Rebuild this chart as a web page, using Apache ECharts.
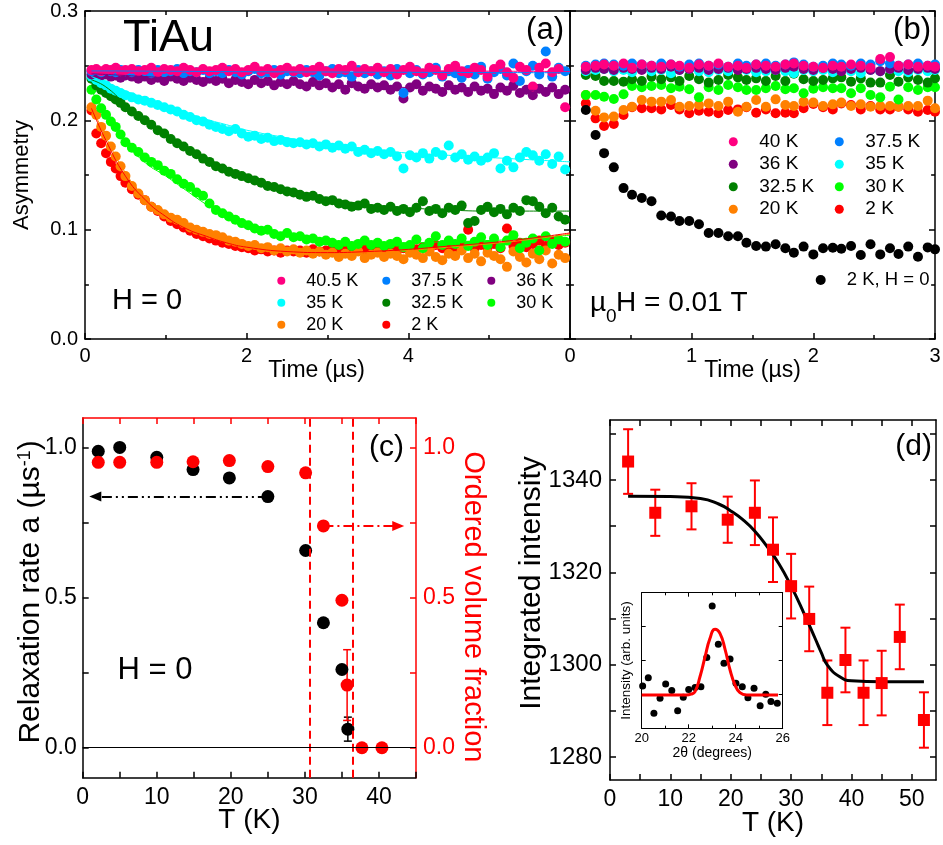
<!DOCTYPE html>
<html><head><meta charset="utf-8">
<script src="https://cdn.jsdelivr.net/npm/echarts@6/dist/echarts.min.js"></script>
<style>html,body{margin:0;padding:0;background:#fff}#c{width:943px;height:845px}</style>
</head><body><div id="c"></div>
<script>
// ---------- Panel (a): ZF asymmetry, H = 0 ----------
const tA = [0.08,0.14,0.2,0.26,0.32,0.38,0.44,0.5,
0.58,0.66,0.74,0.82,0.9,0.98,1.06,1.14,1.22,1.3,1.38,1.46,1.54,
1.62,1.7,1.78,1.86,1.94,2.02,2.1,2.18,2.26,2.34,2.42,2.5,2.58,
2.66,2.74,2.82,2.9,2.98,3.06,3.14,3.22,3.3,3.38,3.46,3.54,3.62,
3.7,3.78,3.86,3.94,4.02,4.1,4.18,4.26,4.34,4.42,4.5,4.58,4.66,
4.74,4.82,4.9,4.98,5.06,5.14,5.22,5.3,5.38,5.46,5.54,5.62,5.7,5.78,5.86,5.94];
const a40_5 = [0.246,0.247,0.245,0.247,0.246,0.248,0.245,0.246,
0.247,0.245,0.246,0.248,0.244,0.247,0.246,0.245,0.248,0.246,0.244,0.247,0.245,
0.246,0.248,0.245,0.247,0.244,0.246,0.249,0.245,0.247,0.243,0.246,0.248,0.245,
0.247,0.244,0.246,0.249,0.245,0.243,0.247,0.246,0.250,0.244,0.247,0.245,0.248,
0.244,0.247,0.242,0.246,0.249,0.245,0.243,0.248,0.246,0.241,0.247,0.250,0.245,
0.243,0.248,0.246,0.240,0.247,0.251,0.244,0.239,0.249,0.246,0.231,0.248,0.252,0.244,0.247,0.212];
const a37_5 = [0.245,0.246,0.244,0.246,0.245,0.244,0.246,0.245,
0.244,0.246,0.245,0.243,0.246,0.244,0.245,0.247,0.243,0.245,0.244,0.246,0.243,
0.245,0.243,0.246,0.244,0.242,0.245,0.247,0.243,0.244,0.246,0.242,0.245,0.244,
0.243,0.246,0.244,0.241,0.245,0.247,0.243,0.244,0.240,0.246,0.243,0.245,0.242,
0.245,0.241,0.247,0.225,0.243,0.246,0.242,0.244,0.248,0.240,0.245,0.243,0.239,
0.246,0.242,0.249,0.238,0.244,0.247,0.241,0.252,0.236,0.245,0.250,0.242,0.263,0.240,0.248,0.245];
const a36 = [0.242,0.243,0.241,0.242,0.240,0.241,0.239,0.241,
0.240,0.238,0.240,0.237,0.239,0.236,0.240,0.238,0.236,0.239,0.237,0.235,0.238,
0.236,0.238,0.234,0.237,0.235,0.233,0.237,0.234,0.236,0.232,0.235,0.233,0.236,
0.233,0.231,0.235,0.232,0.234,0.230,0.233,0.228,0.234,0.231,0.229,0.233,0.230,
0.232,0.228,0.231,0.220,0.230,0.233,0.227,0.231,0.229,0.226,0.232,0.228,0.230,
0.226,0.231,0.227,0.229,0.224,0.230,0.227,0.232,0.225,0.228,0.223,0.229,0.226,0.230,0.224,0.228];
const a35 = [0.240,0.237,0.234,0.232,0.229,0.227,0.225,0.223,
0.221,0.219,0.218,0.216,0.214,0.212,0.210,0.208,0.205,0.203,0.200,0.199,0.196,
0.194,0.192,0.190,0.192,0.188,0.185,0.186,0.183,0.184,0.181,0.182,0.180,0.179,
0.180,0.178,0.179,0.176,0.178,0.175,0.177,0.174,0.176,0.171,0.173,0.170,0.172,
0.169,0.171,0.167,0.156,0.168,0.166,0.170,0.165,0.171,0.168,0.177,0.166,0.169,
0.164,0.167,0.163,0.166,0.170,0.156,0.163,0.157,0.166,0.171,0.168,0.163,0.169,0.160,0.167,0.155];
const a32_5 = [0.238,0.232,0.228,0.225,0.222,0.219,0.216,0.212,
0.208,0.204,0.200,0.196,0.191,0.188,0.183,0.179,0.176,0.172,0.169,0.165,0.162,
0.158,0.156,0.153,0.151,0.149,0.147,0.145,0.143,0.140,0.139,0.137,0.135,0.134,
0.132,0.130,0.131,0.128,0.126,0.127,0.124,0.123,0.121,0.122,0.124,0.119,0.120,
0.118,0.121,0.117,0.119,0.116,0.120,0.126,0.117,0.119,0.115,0.120,0.118,0.122,
0.106,0.108,0.118,0.121,0.116,0.119,0.114,0.120,0.117,0.127,0.126,0.121,0.115,0.120,0.112,0.109];
const a30 = [0.228,0.219,0.211,0.205,0.199,0.194,0.187,0.180,
0.175,0.171,0.166,0.162,0.159,0.154,0.151,0.146,0.142,0.139,0.134,0.131,0.124,
0.118,0.115,0.112,0.109,0.106,0.104,0.101,0.099,0.100,0.096,0.094,0.097,0.093,
0.094,0.091,0.092,0.089,0.090,0.088,0.086,0.089,0.085,0.087,0.090,0.086,0.088,
0.085,0.087,0.089,0.084,0.086,0.091,0.083,0.088,0.094,0.086,0.090,0.087,0.092,
0.085,0.089,0.093,0.086,0.092,0.084,0.090,0.095,0.083,0.088,0.092,0.081,0.094,0.087,0.091,0.089];
const a20 = [0.212,0.205,0.194,0.186,0.176,0.167,0.158,0.149,
0.140,0.133,0.127,0.121,0.118,0.114,0.111,0.109,0.106,0.102,0.100,0.098,0.096,
0.095,0.093,0.090,0.089,0.087,0.085,0.086,0.083,0.084,0.081,0.083,0.080,0.082,
0.079,0.081,0.078,0.080,0.077,0.079,0.075,0.078,0.076,0.080,0.074,0.077,0.079,
0.075,0.078,0.076,0.073,0.079,0.077,0.074,0.080,0.075,0.072,0.078,0.076,0.081,
0.074,0.078,0.071,0.079,0.076,0.073,0.066,0.080,0.075,0.070,0.078,0.073,0.081,0.069,0.077,0.074];
const a2 = [0.209,0.188,0.179,0.170,0.162,0.156,0.149,0.143,
0.137,0.132,0.127,0.121,0.117,0.112,0.108,0.105,0.102,0.099,0.096,0.094,0.092,
0.090,0.088,0.087,0.085,0.084,0.083,0.081,0.082,0.080,0.081,0.079,0.081,0.080,
0.081,0.079,0.082,0.080,0.081,0.083,0.080,0.082,0.081,0.084,0.082,0.080,0.083,
0.082,0.084,0.081,0.083,0.085,0.082,0.084,0.081,0.086,0.083,0.085,0.082,0.086,
0.100,0.083,0.086,0.084,0.087,0.083,0.101,0.085,0.088,0.084,0.087,0.090,0.085,0.089,0.086,0.088];
// fit curves of panel (a)
const tFit = [0.08,0.25,0.5,0.75,1,1.25,1.5,1.75,2,2.5,3,3.5,4,4.5,5,5.5,6];
const f40_5 = [0.2465,0.2465,0.2464,0.2464,0.2463,0.2462,0.2461,0.246,0.2459,0.2457,0.2456,0.2454,0.2453,0.2451,0.245,0.2448,0.2447];
const f37_5 = [0.2452,0.2452,0.2451,0.245,0.2449,0.2448,0.2447,0.2446,0.2445,0.2443,0.2442,0.244,0.2439,0.2438,0.2437,0.2436,0.2435];
const f36 = [0.2425,0.242,0.241,0.240,0.239,0.238,0.237,0.236,0.2355,0.234,0.2325,0.231,0.230,0.229,0.228,0.2275,0.227];
const f35 = [0.240,0.235,0.227,0.220,0.213,0.207,0.201,0.196,0.191,0.184,0.178,0.174,0.170,0.168,0.166,0.164,0.162];
const f32_5 = [0.237,0.231,0.215,0.200,0.188,0.176,0.166,0.156,0.148,0.137,0.129,0.123,0.120,0.118,0.117,0.117,0.117];
const f30 = [0.227,0.207,0.180,0.161,0.149,0.136,0.123,0.111,0.102,0.094,0.090,0.088,0.088,0.089,0.090,0.092,0.095];
const f20 = [0.213,0.186,0.152,0.129,0.114,0.103,0.095,0.089,0.085,0.080,0.079,0.079,0.081,0.084,0.087,0.091,0.096];
const f2 = [0.211,0.183,0.149,0.127,0.112,0.101,0.094,0.088,0.084,0.080,0.079,0.080,0.082,0.085,0.088,0.092,0.097];

// ---------- Panel (b): mu0H = 0.01 T ----------
const tB = [0.13,0.21,0.28,0.36,0.44,0.51,0.59,0.67,0.75,0.83,
0.9,0.98,1.06,1.14,1.22,1.3,1.38,1.45,1.53,1.61,
1.69,1.77,1.84,1.92,2.0,2.08,2.16,2.23,2.31,2.39,
2.47,2.55,2.63,2.7,2.78,2.86,2.94,3.0];
const b40 = [0.249,0.250,0.251,0.250,0.252,0.248,0.251,0.250,0.249,0.251,0.250,0.248,0.251,0.250,0.252,0.249,0.250,0.248,0.251,0.250,0.249,0.251,0.252,0.250,0.249,0.248,0.250,0.249,0.251,0.250,0.248,0.256,0.258,0.250,0.251,0.249,0.250,0.249];
const b37_5 = [0.250,0.251,0.252,0.251,0.250,0.252,0.251,0.250,0.252,0.251,0.249,0.251,0.252,0.250,0.251,0.249,0.252,0.250,0.251,0.252,0.250,0.251,0.253,0.251,0.249,0.250,0.252,0.251,0.250,0.252,0.251,0.254,0.252,0.250,0.251,0.252,0.250,0.251];
const b36 = [0.246,0.248,0.247,0.246,0.248,0.247,0.246,0.248,0.247,0.249,0.246,0.247,0.248,0.246,0.247,0.248,0.246,0.247,0.248,0.247,0.246,0.248,0.249,0.247,0.246,0.248,0.247,0.245,0.247,0.248,0.246,0.245,0.247,0.248,0.246,0.247,0.248,0.247];
const b35 = [0.245,0.246,0.247,0.245,0.246,0.244,0.247,0.245,0.246,0.243,0.246,0.247,0.245,0.244,0.246,0.245,0.247,0.246,0.244,0.245,0.246,0.245,0.243,0.246,0.245,0.246,0.244,0.246,0.245,0.243,0.246,0.245,0.247,0.245,0.244,0.246,0.245,0.246];
const b32_5 = [0.2415,0.2405,0.236,0.236,0.2354,0.2375,0.236,0.240,0.2375,0.2393,0.236,0.2405,0.2375,0.2345,0.2369,0.2415,0.2393,0.2369,0.2384,0.236,0.2405,0.236,0.2427,0.2375,0.236,0.2369,0.2384,0.2393,0.2354,0.2384,0.2345,0.2345,0.2415,0.2354,0.2393,0.2369,0.2345,0.2384];
const b30 = [0.2232,0.2232,0.2216,0.2195,0.2238,0.2314,0.2302,0.2314,0.2323,0.2293,0.2308,0.2284,0.221,0.2302,0.2277,0.2323,0.2302,0.2277,0.2277,0.2293,0.2314,0.2284,0.2293,0.2247,0.2290,0.2302,0.2293,0.2293,0.2247,0.2293,0.2232,0.221,0.2308,0.219,0.2302,0.2277,0.2302,0.2302];
const b20 = [0.2232,0.2088,0.2027,0.2034,0.2095,0.2125,0.2186,0.2171,0.2171,0.2186,0.2125,0.2131,0.214,0.2155,0.2131,0.2171,0.2079,0.2125,0.2186,0.2125,0.2192,0.214,0.2131,0.2171,0.2162,0.2131,0.2146,0.2162,0.2131,0.2146,0.2125,0.2131,0.2131,0.2125,0.2131,0.2131,0.218,0.211];
const b2 = [0.2155,0.2018,0.1948,0.1966,0.2049,0.2119,0.211,0.211,0.21,0.214,0.21,0.2064,0.2088,0.2079,0.2064,0.2095,0.21,0.2119,0.207,0.21,0.2064,0.207,0.2064,0.211,0.215,0.2119,0.21,0.2155,0.214,0.21,0.2131,0.21,0.21,0.2125,0.21,0.2079,0.2095,0.2079];
const b2zf = [0.2095,0.1866,0.170,0.157,0.138,0.132,0.129,0.126,0.113,0.112,0.108,0.108,0.105,0.097,0.097,0.094,0.094,0.088,0.085,0.0845,0.0866,0.083,0.079,0.0845,0.0774,0.083,0.0835,0.0826,0.085,0.0768,0.0866,0.0774,0.083,0.0777,0.0845,0.0753,0.0838,0.082];

// ---------- Panel (c) ----------
const cT = [2.1,5,10,14.9,19.8,25,30.1,32.5,35,35.8];
const cRate = [0.989,1.002,0.969,0.928,0.900,0.838,0.658,0.417,0.261,0.062];
const cRateErr = [0,0,0,0,0,0,0,0,0,0.04];
const cTv = [2.1,5,10,14.9,19.8,25,30.1,32.5,35,35.7,37.7,40.4];
const cVol = [0.952,0.952,0.952,0.954,0.958,0.938,0.917,0.740,0.492,0.209,0,0];
const cVolErr = [0,0,0,0,0,0,0,0,0,0.118,0,0];
const cTransitions = [30.7, 36.4];

// ---------- Panel (d) ----------
const dT = [3,7.5,13.5,19.5,24,27,30,33,36,39,42,45,48,52];
const dI = [1344.0,1332.9,1334.3,1331.4,1332.9,1324.9,1317.0,1309.9,1293.9,1301.0,1293.9,1296.0,1306.0,1288.0];
const dErr = [7,5,5,5,7,7,7,7,7,7,7,7,7,6];
const dFitT = [3,10,15,18,20,22,24,26,28,30,32,34,35,36,38,40,45,52];
const dFitI = [1336.5,1336.4,1336,1334.8,1333.3,1331.4,1328.9,1325.6,1321.8,1317.0,1311.5,1305.6,1302.6,1299.9,1297.4,1296.5,1296.3,1296.3];
// inset
const insX = [20.04,20.28,20.52,20.78,21.02,21.28,21.53,21.77,22.0,22.27,22.52,22.77,23.0,23.26,23.5,23.76,24.01,24.28,24.52,24.78,25.04,25.28,25.5,25.77];
const insY = [0.312,0.373,0.111,0.221,0.327,0.278,0.130,0.229,0.287,0.300,0.307,0.523,0.902,0.619,0.479,0.511,0.332,0.307,0.226,0.295,0.167,0.251,0.197,0.184];
const insFitX = [20.0,21.9,22.1,22.27,22.48,22.7,22.9,23.12,23.33,23.55,23.76,23.97,24.18,24.47,25.8];
const insFitY = [0.246,0.246,0.252,0.27,0.38,0.53,0.66,0.73,0.70,0.58,0.43,0.32,0.263,0.246,0.246];

// ---------- building ----------
const F = 'Liberation Sans';
const COL = {'40':'#ff0080','37.5':'#0080ff','36':'#800080','35':'#00ffff','32.5':'#008000','30':'#00ff00','20':'#ff8000','2':'#ff0000'};
const pair = (xs, ys) => xs.map((x, i) => [x, ys[i]]);

function axis(gridIndex, pos, min, max, o) {
  const c = o.color || '#000';
  const tl = o.tickLen || 6, lw = o.lw || 1.5;
  const a = {
    gridIndex, position: pos, type: 'value', min, max,
    nameMoveOverlap: false,
    axisLine: {show: true, onZero: false, lineStyle: {color: c, width: lw}},
    axisTick: {show: true, inside: true, length: tl, lineStyle: {color: c, width: lw}},
    splitLine: {show: false}, minorSplitLine: {show: false},
    axisLabel: {show: !!o.labels, color: c, fontFamily: F, fontSize: o.fs || 20, margin: o.margin || 7},
    axisPointer: {show: false}
  };
  if (o.interval) a.interval = o.interval;
  if (o.minor) a.minorTick = {show: true, splitNumber: o.minor, length: tl * 0.65, lineStyle: {color: c, width: lw}};
  if (o.tickVals) a.axisTick.customValues = o.tickVals;
  if (o.labelVals) a.axisLabel.customValues = o.labelVals;
  if (o.fmt) a.axisLabel.formatter = o.fmt;
  if (o.hideMax) a.axisLabel.showMaxLabel = false;
  if (o.name) {
    a.name = o.name; a.nameLocation = 'middle'; a.nameGap = o.nameGap;
    if (o.nameRotate !== undefined) a.nameRotate = o.nameRotate;
    a.nameTextStyle = Object.assign({color: c, fontFamily: F, fontSize: o.nfs}, o.nts || {});
  }
  return a;
}
const fx1 = v => v.toFixed(1);
const fInt = v => String(Math.round(v));
const t5 = [0,5,10,15,20,25,30,35,40,45];
const t5d = [0,5,10,15,20,25,30,35,40,45,50];

const xAxis = [
  axis(0,'bottom',0,6,{interval:2,minor:2,labels:true,hideMax:true,name:'Time (µs)',nameGap:20,nfs:23,nts:{padding:[0,22,0,0]}}),
  axis(0,'top',0,6,{interval:2,minor:2}),
  axis(1,'bottom',0,3,{interval:1,minor:2,labels:true,name:'Time (µs)',nameGap:20,nfs:23}),
  axis(1,'top',0,3,{interval:1,minor:2}),
  axis(2,'bottom',0,45,{tickVals:t5,labelVals:[0,10,20,30,40],labels:true,fs:23,margin:8,name:'T (K)',nameGap:29,nfs:28}),
  axis(2,'top',0,45,{tickVals:t5,color:'#ff0000'}),
  axis(3,'bottom',0,54,{tickVals:t5d,labelVals:[0,10,20,30,40,50],labels:true,fs:23,margin:8,name:'T (K)',nameGap:29,nfs:28}),
  axis(3,'top',0,54,{tickVals:t5d}),
  axis(4,'bottom',20,26,{interval:2,minor:2,labels:true,fs:13,margin:4,tickLen:4,lw:1,name:'2θ (degrees)',nameGap:18,nfs:14}),
  axis(4,'top',20,26,{interval:2,minor:2,tickLen:4,lw:1})
];
const yAxis = [
  axis(0,'left',0,0.3,{interval:0.1,minor:2,labels:true,fmt:fx1,name:'Asymmetry',nameGap:52,nfs:22}),
  axis(0,'right',0,0.3,{interval:0.1,minor:2}),
  axis(1,'left',0,0.3,{interval:0.1,minor:2}),
  axis(1,'right',0,0.3,{interval:0.1,minor:2}),
  axis(2,'left',-0.1,1.1,{tickVals:[0,0.25,0.5,0.75,1],labelVals:[0,0.5,1],labels:true,fs:23,margin:6,fmt:fx1,
     name:'Relaxation rate a (µs{sup|-1})',nameGap:36,nfs:30,
     nts:{lineHeight:31,padding:[0,0,0,12],rich:{sup:{fontSize:18,fontFamily:F,color:'#000',lineHeight:17,verticalAlign:'top'}}}}),
  axis(2,'right',-0.1,1.1,{tickVals:[0,0.25,0.5,0.75,1],labelVals:[0,0.5,1],labels:true,fs:23,margin:7,fmt:fx1,color:'#ff0000',
     name:'Ordered volume fraction',nameGap:42,nfs:29,nameRotate:-90,nts:{padding:[0,0,0,18]}}),
  axis(3,'left',1275,1353,{tickVals:[1280,1290,1300,1310,1320,1330,1340,1350],labelVals:[1280,1300,1320,1340],labels:true,fs:24,margin:8,fmt:fInt,
     name:'Integrated intensity',nameGap:63,nfs:30,nts:{padding:[0,0,0,34]}}),
  axis(3,'right',1275,1353,{tickVals:[1280,1290,1300,1310,1320,1330,1340,1350]}),
  axis(4,'left',0,1,{interval:0.25,tickLen:4,lw:1,name:'Intensity (arb. units)',nameGap:8,nfs:13.5}),
  axis(4,'right',0,1,{interval:0.25,tickLen:4,lw:1})
];

const grid = [
  {left:85, top:11, width:485, height:328},
  {left:570, top:11, width:365, height:328},
  {left:82.7, top:418, width:333.3, height:359.7},
  {left:610, top:420, width:326, height:360},
  {left:641.7, top:592.7, width:141, height:135.6, show:true, backgroundColor:'#fff', borderWidth:0}
].map(g => Object.assign({containLabel:false, outerBoundsMode:'none'}, g));

const sc = (name, xi, yi, data, color, size, symbol, z) => ({
  type:'scatter', name, xAxisIndex:xi, yAxisIndex:yi, data, symbol: symbol || 'circle', symbolSize:size,
  itemStyle:{color, opacity:1}, z: z || 2, silent:true
});
const ln = (name, xi, yi, data, color, width) => ({
  type:'line', name, xAxisIndex:xi, yAxisIndex:yi, data, showSymbol:false, symbol:'none', smooth:true,
  lineStyle:{color, width}, itemStyle:{color}, z:3, silent:true
});
function errSeries(xi, yi, data, color, cap, lw) {
  return {type:'custom', xAxisIndex:xi, yAxisIndex:yi, data, silent:true, z:2, encode:{x:0, y:1},
    renderItem(params, api) {
      const x = api.value(0), y = api.value(1), e = api.value(2);
      const t = api.coord([x, y + e]), b = api.coord([x, y - e]);
      const st = {stroke: color, lineWidth: lw};
      return {type:'group', children:[
        {type:'line', shape:{x1:t[0], y1:t[1], x2:b[0], y2:b[1]}, style:st},
        {type:'line', shape:{x1:t[0]-cap, y1:t[1], x2:t[0]+cap, y2:t[1]}, style:st},
        {type:'line', shape:{x1:b[0]-cap, y1:b[1], x2:b[0]+cap, y2:b[1]}, style:st}
      ]};
    }};
}
const withErr = (xs, ys, es) => xs.map((x, i) => [x, ys[i], es[i]]).filter(d => d[2] > 0);

const series = [
  // (a)
  sc('2 K',0,0,pair(tA,a2),COL['2'],10),
  sc('20 K',0,0,pair(tA,a20),COL['20'],10),
  sc('30 K',0,0,pair(tA,a30),COL['30'],10),
  sc('32.5 K',0,0,pair(tA,a32_5),COL['32.5'],10),
  sc('35 K',0,0,pair(tA,a35),COL['35'],10),
  sc('36 K',0,0,pair(tA,a36),COL['36'],10),
  sc('37.5 K',0,0,pair(tA,a37_5),COL['37.5'],10),
  sc('40.5 K',0,0,pair(tA,a40_5),COL['40'],10),
  ln('fit 40.5 K',0,0,pair(tFit,f40_5),COL['40'],1),
  ln('fit 37.5 K',0,0,pair(tFit,f37_5),COL['37.5'],1),
  ln('fit 36 K',0,0,pair(tFit,f36),COL['36'],1),
  ln('fit 35 K',0,0,pair(tFit,f35),COL['35'],1),
  ln('fit 32.5 K',0,0,pair(tFit,f32_5),COL['32.5'],1),
  ln('fit 30 K',0,0,pair(tFit,f30),COL['30'],1),
  ln('fit 20 K',0,0,pair(tFit,f20),COL['20'],1),
  ln('fit 2 K',0,0,pair(tFit,f2),COL['2'],1),
  // (b)
  sc('2 K',2,2,pair(tB,b2),COL['2'],10),
  sc('20 K',2,2,pair(tB,b20),COL['20'],10),
  sc('30 K',2,2,pair(tB,b30),COL['30'],10),
  sc('32.5 K',2,2,pair(tB,b32_5),COL['32.5'],10),
  sc('35 K',2,2,pair(tB,b35),COL['35'],10),
  sc('36 K',2,2,pair(tB,b36),COL['36'],10),
  sc('37.5 K',2,2,pair(tB,b37_5),COL['37.5'],10),
  sc('40 K',2,2,pair(tB,b40),COL['40'],10),
  sc('2 K, H = 0',2,2,pair(tB,b2zf),'#000',10),
  // (c)
  Object.assign(sc('Relaxation rate',4,4,pair(cT,cRate),'#000',13), {
    markLine:{silent:true, animation:false, symbol:['none','none'], label:{show:false}, emphasis:{disabled:true},
      data:[
        {xAxis:cTransitions[0], lineStyle:{color:'#ff0000', type:[8,5], width:2}},
        {xAxis:cTransitions[1], lineStyle:{color:'#ff0000', type:[8,5], width:2}},
        {yAxis:0, lineStyle:{color:'#000', type:'solid', width:1}},
        [{coord:[25,0.838], symbol:'none', lineStyle:{color:'#000', type:[10,4,2,4,2,4], width:2}},
         {coord:[1.7,0.838], symbol:'triangle', symbolSize:[10,12], lineStyle:{color:'#000', type:[10,4,2,4,2,4], width:2}}],
        [{coord:[32.5,0.74], symbol:'none', lineStyle:{color:'#ff0000', type:[10,4,2,4], width:2}},
         {coord:[42.6,0.74], symbol:'triangle', symbolSize:[10,12], lineStyle:{color:'#ff0000', type:[10,4,2,4], width:2}}]
      ]}
  }),
  errSeries(4,4,withErr(cT,cRate,cRateErr),'#000',4,1.5),
  errSeries(4,5,withErr(cTv,cVol,cVolErr),'#ff0000',4,1.5),
  sc('Ordered volume fraction',4,5,pair(cTv,cVol),'#ff0000',13),
  // (d)
  ln('fit',6,6,pair(dFitT,dFitI),'#000',3),
  errSeries(6,6,dT.map((t,i)=>[t,dI[i],dErr[i]]),'#ff0000',5,2),
  Object.assign(sc('Integrated intensity',6,6,pair(dT,dI),'#ff0000',12,'rect'),{z:4}),
  // inset
  Object.assign(ln('gauss',8,8,pair(insFitX,insFitY),'#ff0000',3),{z:6}),
  sc('inset data',8,8,pair(insX,insY),'#000',7,'circle',5)
];

// legend: square icon box (icon size = box), text pushed right with padding
const legBase = (left, top, data, ih, lh, fs, padL) => ({
  orient:'vertical', left, top, data, itemWidth:ih, itemHeight:ih, itemGap:0, padding:0,
  icon:'circle', selectedMode:false,
  textStyle:{fontFamily:F, fontSize:fs, color:'#000', lineHeight:lh, padding:[0,0,0,padL]}
});
const legend = [
  legBase(277.3, 269.7, ['40.5 K','35 K','20 K'], 8, 22, 18, 16),
  legBase(382.3, 269.7, ['37.5 K','32.5 K','2 K'], 8, 22, 18, 16),
  legBase(487.3, 269.7, ['36 K','30 K'], 8, 22, 18, 16),
  legBase(728.8, 130.5, ['40 K','36 K','32.5 K','20 K'], 9, 22.5, 19, 16.5),
  legBase(834.8, 130.5, ['37.5 K','35 K','30 K','2 K'], 9, 22.5, 19, 16.5),
  legBase(815.7, 269, ['2 K, H = 0'], 10, 22, 18.5, 16)
];

function txt(x, y, text, size, align, color) {
  return {type:'text', x, y, silent:true, z:100,
    style:{text, font: size + 'px "Liberation Sans"', fill: color || '#000', align: align || 'center', verticalAlign:'middle'}};
}
const graphic = {elements:[
  txt(168.5, 38.5, 'TiAu', 45),
  txt(564, 30, '(a)', 31, 'right'),
  txt(931, 30, '(b)', 31, 'right'),
  txt(147, 301, 'H = 0', 29),
  txt(590, 303, 'µ', 28, 'left'),
  txt(606, 317, '0', 19, 'left'),
  txt(616, 303, 'H = 0.01 T', 28, 'left'),
  txt(404, 448, '(c)', 30, 'right'),
  txt(155, 670, 'H = 0', 31),
  txt(932, 447, '(d)', 30, 'right')
]};

const chart = echarts.init(document.getElementById('c'), null, {renderer:'canvas'});
chart.setOption({
  animation:false, backgroundColor:'#fff',
  textStyle:{fontFamily:F},
  grid, xAxis, yAxis, series, legend, graphic,
  tooltip:{show:false}
});
</script></body></html>
